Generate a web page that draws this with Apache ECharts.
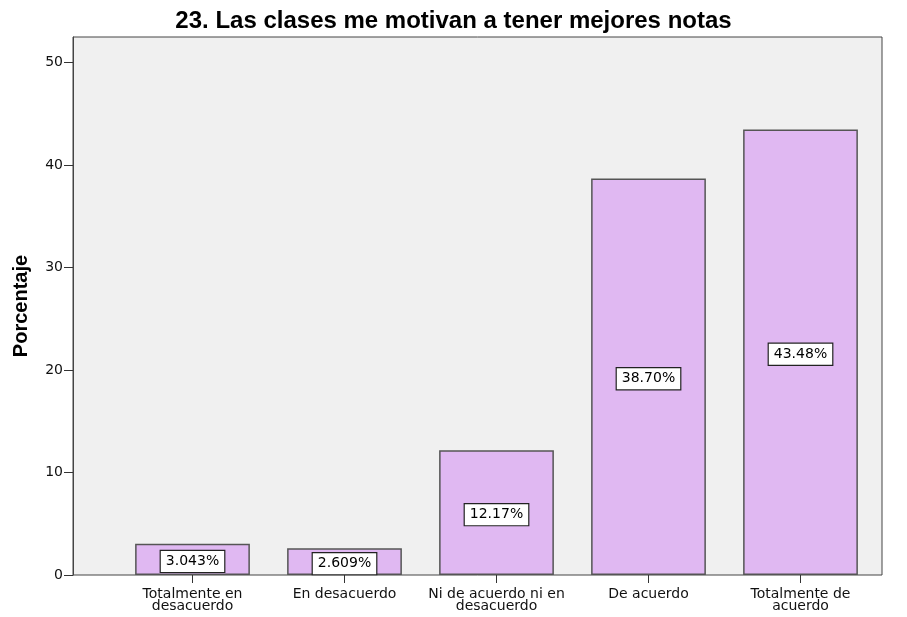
<!DOCTYPE html>
<html><head><meta charset="utf-8">
<script src="https://cdn.jsdelivr.net/npm/echarts@6/dist/echarts.min.js"></script>
<style>html,body{margin:0;padding:0;background:#fff}#c{width:907px;height:617px}</style>
</head><body><div id="c"></div>
<script>
const categories = ["Totalmente en\ndesacuerdo", "En desacuerdo", "Ni de acuerdo ni en\ndesacuerdo", "De acuerdo", "Totalmente de\nacuerdo"];
const values = [3.043, 2.609, 12.17, 38.70, 43.48];
const labels = ["3.043%", "2.609%", "12.17%", "38.70%", "43.48%"];
const yTicks = [0, 10, 20, 30, 40, 50];

const FONT = "Liberation Sans, Arial, sans-serif";
const FONT2 = "DejaVu Sans, sans-serif";
const chart = echarts.init(document.getElementById('c'), null, {renderer: 'canvas'});
const plotTop = 37, plotBottom = 575, frameLeft = 73, frameRight = 882;
const dataLeft = 116.5, dataRight = 876.5;
const yMax = 52.5;
chart.setOption({
  animation: false,
  title: {
    text: "23. Las clases me motivan a tener mejores notas",
    left: 'center', top: 4,
    textStyle: {fontFamily: FONT, fontSize: 24, fontWeight: 'bold', color: '#000'}
  },
  grid: [
    {left: frameLeft, right: 907 - frameRight, top: plotTop, bottom: 617 - plotBottom,
     show: true, backgroundColor: '#f0f0f0', borderColor: '#444', borderWidth: 1},
    {left: dataLeft, right: 907 - dataRight, top: plotTop, bottom: 617 - plotBottom}
  ],
  xAxis: [
    {gridIndex: 0, type: 'value', min: 0, max: 1, show: false},
    {gridIndex: 1, type: 'category', data: categories,
     axisLine: {show: false},
     axisTick: {show: true, alignWithLabel: true, length: 8, lineStyle: {color: '#333', width: 1}},
     axisLabel: {fontFamily: FONT2, fontSize: 14, color: '#111', lineHeight: 12, margin: 13, interval: 0}
    }
  ],
  yAxis: [
    {gridIndex: 0, type: 'value', min: 0, max: yMax, show: false},
    {gridIndex: 1, type: 'value', min: 0, max: yMax, interval: 10,
     offset: dataLeft - frameLeft,
     name: 'Porcentaje', nameLocation: 'middle', nameGap: 42, nameRotate: 90,
     nameTextStyle: {fontFamily: FONT, fontSize: 20, fontWeight: 'bold', color: '#000'},
     axisLine: {show: true, lineStyle: {color: '#444', width: 1}},
     axisTick: {show: true, length: 9, lineStyle: {color: '#333'}, customValues: yTicks},
     axisLabel: {fontFamily: FONT2, fontSize: 14, color: '#111', margin: 10, customValues: yTicks},
     splitLine: {show: false}
    }
  ],
  series: [{
    type: 'bar', xAxisIndex: 1, yAxisIndex: 1,
    data: values,
    barCategoryGap: '24.5%',
    itemStyle: {color: '#e0b8f2', borderColor: '#555', borderWidth: 1.5},
    label: {
      show: true, position: 'inside', offset: [0, 2],
      formatter: p => labels[p.dataIndex],
      fontFamily: FONT2, fontSize: 14, color: '#000',
      backgroundColor: '#fff', borderColor: '#222', borderWidth: 1.2,
      padding: [4, 5, 3, 5]
    }
  }]
});
</script></body></html>
